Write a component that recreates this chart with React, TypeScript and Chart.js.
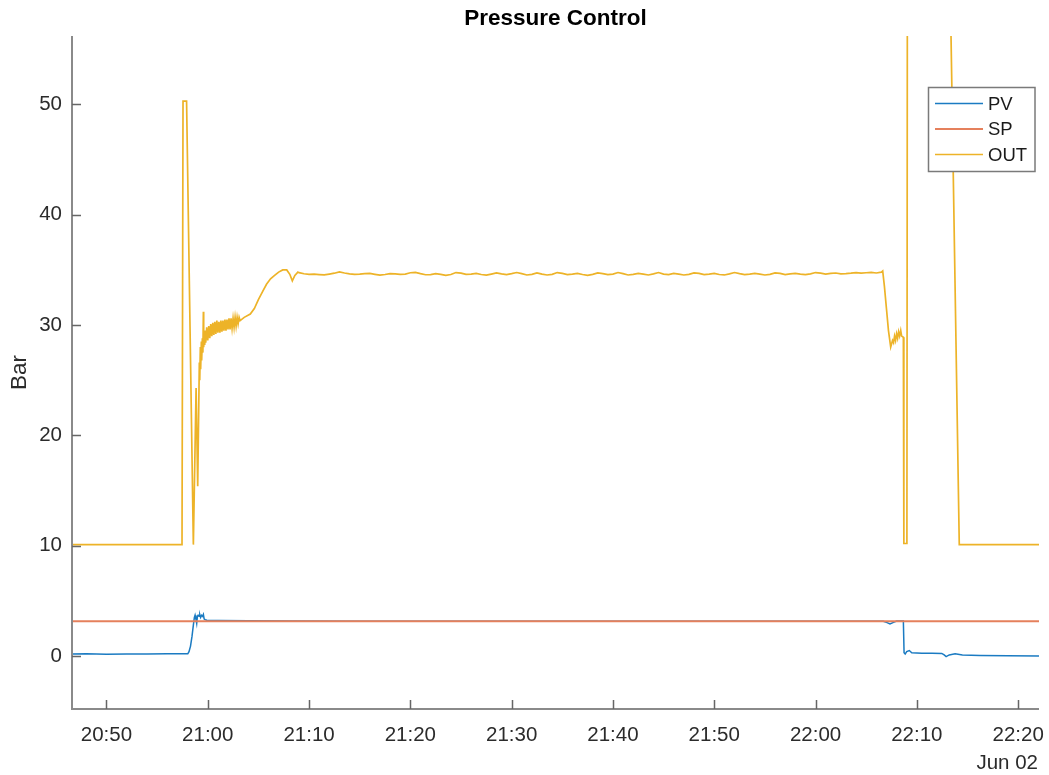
import { useEffect, useRef } from "react";
import { Chart, registerables } from "chart.js";

Chart.register(...registerables);

const FONT = "'Liberation Sans', Arial, Helvetica, sans-serif";

// Time axis: minutes after 20:00 on Jun 02.
const xStart = 46.6;
const xEnd = 142.06;
const xTickMinutes = [50, 60, 70, 80, 90, 100, 110, 120, 130, 140];
const dateLabel = "Jun 02";

const yMin = -4.8;
const yMax = 56.2;
const yTicks = [0, 10, 20, 30, 40, 50];

const seriesNames = ["PV", "SP", "OUT"];
const seriesColors = ["#1b7bc2", "#e5805c", "#edb328"];
const seriesWidths = [1.5, 2, 1.7];

// Controller output [minute, bar]
const outLog: [number, number][] = [
  [46.6, 10.1], [48.0, 10.1], [50.0, 10.1], [52.0, 10.1], [54.0, 10.1], [56.0, 10.1], [57.46, 10.1],
  [57.56, 50.3], [57.91, 50.3], [58.58, 10.1], [58.85, 24.3], [59.01, 15.4], [59.17, 26.6],
  [59.21, 25.0], [59.27, 28.0], [59.30, 26.0], [59.37, 28.5], [59.40, 26.8], [59.47, 28.8],
  [59.52, 27.5], [59.57, 31.2], [59.60, 28.0], [59.67, 29.3], [59.70, 28.2], [59.77, 29.5],
  [59.80, 28.4], [59.9, 29.8], [60.0, 28.6], [60.1, 29.9], [60.2, 28.8], [60.3, 30.1],
  [60.4, 29.0], [60.5, 30.2], [60.6, 29.1], [60.7, 30.3], [60.8, 29.2], [60.9, 30.4],
  [61.0, 29.3], [61.1, 30.3], [61.2, 29.3], [61.3, 30.4], [61.4, 29.4], [61.5, 30.4],
  [61.6, 29.5], [61.7, 30.5], [61.8, 29.5], [61.9, 30.5], [62.0, 29.6], [62.1, 30.6],
  [62.2, 29.6], [62.3, 30.6], [62.4, 29.7], [62.5, 30.6], [62.6, 29.8], [62.7, 30.7],
  [62.8, 29.9], [62.9, 30.7], [63.0, 30.1], [63.1, 30.7], [63.2, 30.4], [63.6, 30.7],
  [64.2, 31.0], [64.6, 31.5], [65.0, 32.3], [65.4, 33.0], [65.8, 33.7], [66.2, 34.2],
  [66.6, 34.5], [67.0, 34.8], [67.4, 35.0], [67.8, 35.0], [68.1, 34.6], [68.35, 34.0],
  [68.6, 34.5], [68.9, 34.8],
  [69.0, 34.75], [69.5, 34.65], [70.0, 34.6], [70.5, 34.62], [71.0, 34.58], [71.5, 34.55],
  [72.0, 34.62], [72.5, 34.7], [73.0, 34.82], [73.5, 34.72], [74.0, 34.64], [74.5, 34.6],
  [75.0, 34.62], [75.5, 34.66], [76.0, 34.68], [76.5, 34.6], [77.0, 34.52], [77.5, 34.58],
  [78.0, 34.66], [78.5, 34.64], [79.0, 34.6], [79.5, 34.62], [80.0, 34.74], [80.5, 34.78],
  [81.0, 34.66], [81.5, 34.56], [82.0, 34.58], [82.5, 34.66], [83.0, 34.6], [83.5, 34.5],
  [84.0, 34.58], [84.5, 34.76], [85.0, 34.7], [85.5, 34.6], [86.0, 34.62], [86.5, 34.68],
  [87.0, 34.58], [87.5, 34.52], [88.0, 34.62], [88.5, 34.72], [89.0, 34.64], [89.5, 34.58],
  [90.0, 34.66], [90.5, 34.76], [91.0, 34.66], [91.5, 34.54], [92.0, 34.6], [92.5, 34.72],
  [93.0, 34.62], [93.5, 34.54], [94.0, 34.6], [94.5, 34.76], [95.0, 34.68], [95.5, 34.58],
  [96.0, 34.62], [96.5, 34.68], [97.0, 34.58], [97.5, 34.5], [98.0, 34.6], [98.5, 34.72],
  [99.0, 34.66], [99.5, 34.58], [100.0, 34.62], [100.5, 34.76], [101.0, 34.66], [101.5, 34.54],
  [102.0, 34.6], [102.5, 34.68], [103.0, 34.62], [103.5, 34.54], [104.0, 34.64], [104.5, 34.76],
  [105.0, 34.62], [105.5, 34.58], [106.0, 34.68], [106.5, 34.62], [107.0, 34.54], [107.5, 34.6],
  [108.0, 34.72], [108.5, 34.68], [109.0, 34.58], [109.5, 34.62], [110.0, 34.68], [110.5, 34.58],
  [111.0, 34.54], [111.5, 34.64], [112.0, 34.76], [112.5, 34.66], [113.0, 34.58], [113.5, 34.62],
  [114.0, 34.68], [114.5, 34.62], [115.0, 34.54], [115.5, 34.6], [116.0, 34.72], [116.5, 34.68],
  [117.0, 34.58], [117.5, 34.64], [118.0, 34.68], [118.5, 34.62], [119.0, 34.58], [119.5, 34.64],
  [120.0, 34.76], [120.5, 34.7], [121.0, 34.62], [121.5, 34.68], [122.0, 34.72], [122.5, 34.64],
  [123.0, 34.66], [123.5, 34.7], [124.0, 34.76], [124.5, 34.7], [125.0, 34.74], [125.5, 34.78],
  [126.0, 34.72], [126.5, 34.8], [126.63, 34.9], [126.8, 33.5], [127.0, 31.5], [127.2, 29.5],
  [127.42, 28.0], [127.6, 28.6], [127.7, 28.4], [127.8, 29.0], [127.9, 28.6], [128.0, 29.2],
  [128.1, 28.8], [128.2, 29.4], [128.3, 29.0], [128.41, 29.5], [128.5, 29.0], [128.67, 28.9],
  [128.72, 10.2], [129.02, 10.2], [129.1, 100], [132.6, 100], [134.19, 10.1], [136.0, 10.1],
  [138.0, 10.1], [140.0, 10.1], [142.06, 10.1],
];

// Process value [minute, bar]
const pvLog: [number, number][] = [
  [46.6, 0.18], [48.0, 0.2], [50.0, 0.17], [52.0, 0.19], [54.0, 0.18], [56.0, 0.2],
  [58.03, 0.2], [58.15, 0.4], [58.3, 0.9], [58.45, 1.8], [58.58, 2.8], [58.68, 3.5],
  [58.75, 3.7], [58.82, 3.4], [58.91, 2.95], [58.98, 3.6], [59.05, 3.7], [59.14, 3.6],
  [59.22, 3.75], [59.3, 3.5], [59.4, 3.7], [59.5, 3.6], [59.57, 3.76], [59.65, 3.35],
  [59.75, 3.3], [59.9, 3.24], [61.0, 3.22], [64.0, 3.2], [68.0, 3.17], [75.0, 3.16],
  [85.0, 3.16], [95.0, 3.16], [105.0, 3.16], [115.0, 3.16], [126.69, 3.16], [127.0, 3.05],
  [127.35, 2.92], [127.7, 3.05], [128.01, 3.17], [128.67, 3.17], [128.74, 0.3], [128.85, 0.18],
  [129.0, 0.4], [129.26, 0.5], [129.5, 0.3], [130.5, 0.26], [131.5, 0.25], [132.46, 0.24],
  [132.7, 0.1], [132.89, -0.05], [133.2, 0.1], [133.78, 0.2], [134.5, 0.1], [136.25, 0.05],
  [139.0, 0.02], [142.06, 0.0],
];

// Setpoint [minute, bar]
const spLog: [number, number][] = [
  [46.6, 3.15], [142.06, 3.15],
];

const AXIS_COLOR = "#8a8a8a";
const TEXT_COLOR = "#2b2b2b";

const clockLabel = (m: number) => {
  const h = 20 + Math.floor(m / 60);
  const mm = Math.round(m % 60);
  return `${h}:${mm < 10 ? "0" : ""}${mm}`;
};

const decorPlugin = {
  id: "decor",
  afterDraw(chart: any) {
    const { ctx, chartArea: a, scales } = chart;
    const xs = scales.x;
    const ys = scales.y;
    ctx.save();

    // axis lines (left and bottom only)
    ctx.strokeStyle = AXIS_COLOR;
    ctx.lineWidth = 2;
    ctx.beginPath();
    ctx.moveTo(a.left, a.top);
    ctx.lineTo(a.left, a.bottom);
    ctx.lineTo(a.right, a.bottom);
    ctx.stroke();

    // inward tick marks
    ctx.strokeStyle = "#666";
    ctx.lineWidth = 1.5;
    ctx.beginPath();
    for (const t of yTicks) {
      const py = Math.round(ys.getPixelForValue(t)) + 0.5;
      ctx.moveTo(a.left, py);
      ctx.lineTo(a.left + 9, py);
    }
    for (const t of xTickMinutes) {
      const px = Math.round(xs.getPixelForValue(t)) + 0.5;
      ctx.moveTo(px, a.bottom);
      ctx.lineTo(px, a.bottom - 9);
    }
    ctx.stroke();

    // title
    ctx.fillStyle = "#000";
    ctx.font = `bold 22.5px ${FONT}`;
    ctx.textAlign = "center";
    ctx.textBaseline = "middle";
    ctx.fillText("Pressure Control", (a.left + a.right) / 2, 19);

    // y axis label
    ctx.save();
    ctx.translate(20, (a.top + a.bottom) / 2);
    ctx.rotate(-Math.PI / 2);
    ctx.fillStyle = TEXT_COLOR;
    ctx.font = `22.5px ${FONT}`;
    ctx.fillText("Bar", 0, 0);
    ctx.restore();

    // date under the last tick
    ctx.fillStyle = TEXT_COLOR;
    ctx.font = `20.5px ${FONT}`;
    ctx.textAlign = "right";
    ctx.fillText(dateLabel, a.right - 1, 763);

    // legend
    const lx = 928.5, ly = 87.5, lw = 106.5, lh = 84;
    ctx.fillStyle = "#fff";
    ctx.fillRect(lx, ly, lw, lh);
    ctx.strokeStyle = "#7a7a7a";
    ctx.lineWidth = 1.5;
    ctx.strokeRect(lx, ly, lw, lh);
    const rows = [103.5, 129, 154.5];
    ctx.font = `18.5px ${FONT}`;
    ctx.textAlign = "left";
    ctx.textBaseline = "middle";
    seriesNames.forEach((name, i) => {
      ctx.strokeStyle = seriesColors[i];
      ctx.lineWidth = seriesWidths[i];
      ctx.beginPath();
      ctx.moveTo(935, rows[i]);
      ctx.lineTo(983, rows[i]);
      ctx.stroke();
      ctx.fillStyle = "#1a1a1a";
      ctx.fillText(name, 988, rows[i] + 1);
    });

    ctx.restore();
  },
};

export default function App() {
  const canvasRef = useRef<HTMLCanvasElement | null>(null);

  useEffect(() => {
    const canvas = canvasRef.current;
    if (!canvas) return;
    const toPoints = (log: [number, number][]) => log.map(([x, y]) => ({ x, y }));
    const logs = [pvLog, spLog, outLog];

    const chart = new Chart(canvas, {
      type: "line",
      data: {
        datasets: logs.map((log, i) => ({
          label: seriesNames[i],
          data: toPoints(log),
          borderColor: seriesColors[i],
          backgroundColor: seriesColors[i],
          borderWidth: seriesWidths[i],
          pointRadius: 0,
          tension: 0,
          fill: false,
          order: 3 - i,
        })),
      },
      options: {
        animation: false,
        responsive: false,
        devicePixelRatio: 1,
        events: [],
        layout: { padding: { top: 36, right: 10, left: 0, bottom: 0 } },
        plugins: {
          legend: { display: false },
          title: { display: false },
          tooltip: { enabled: false },
        },
        scales: {
          x: {
            type: "linear",
            min: xStart,
            max: xEnd,
            afterBuildTicks: (scale: any) => {
              scale.ticks = xTickMinutes.map((v) => ({ value: v }));
            },
            afterFit: (scale: any) => {
              scale.height = 66;
              scale.paddingLeft = 0;
              scale.paddingRight = 0;
            },
            grid: { display: false, drawTicks: false },
            border: { display: false },
            ticks: {
              autoSkip: false,
              maxRotation: 0,
              padding: 14,
              color: TEXT_COLOR,
              font: { family: FONT, size: 20.5 },
              callback: (v: any) => clockLabel(Number(v)),
            },
          },
          y: {
            type: "linear",
            min: yMin,
            max: yMax,
            afterBuildTicks: (scale: any) => {
              scale.ticks = yTicks.map((v) => ({ value: v }));
            },
            afterFit: (scale: any) => {
              scale.width = 72;
              scale.paddingTop = 0;
              scale.paddingBottom = 0;
            },
            grid: { display: false, drawTicks: false },
            border: { display: false },
            ticks: {
              padding: 10,
              color: TEXT_COLOR,
              font: { family: FONT, size: 20.5 },
              callback: (v: any) => String(v),
            },
          },
        },
      },
      plugins: [decorPlugin],
    });

    return () => chart.destroy();
  }, []);

  return (
    <div style={{ position: "fixed", left: 0, top: 0, width: 1049, height: 775, background: "#fff" }}>
      <canvas ref={canvasRef} width={1049} height={775} style={{ width: 1049, height: 775, display: "block" }} />
    </div>
  );
}
